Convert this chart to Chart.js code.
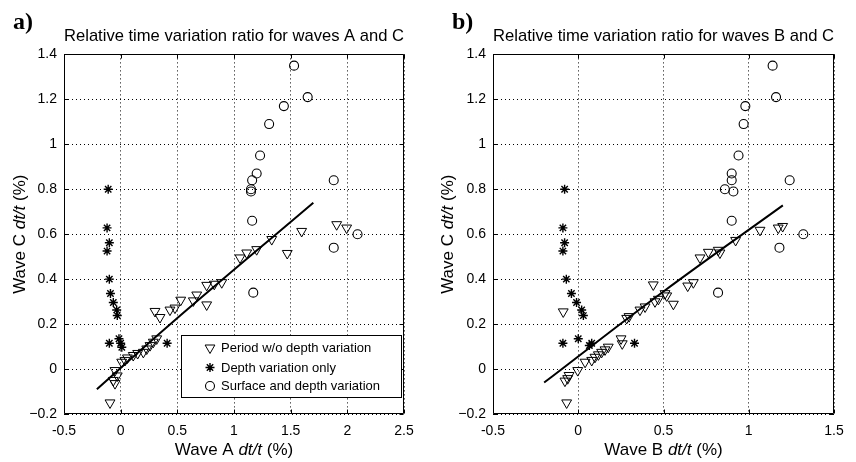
<!DOCTYPE html>
<html><head><meta charset="utf-8">
<script src="https://cdn.jsdelivr.net/npm/chart.js@4"></script>
<style>
html,body{margin:0;padding:0;background:#fff;}
#wrap{position:relative;width:856px;height:462px;overflow:hidden;}
canvas{position:absolute;top:0;}
</style></head><body>
<div id="wrap">
<canvas id="cA" width="428" height="462" style="left:0;width:428px;height:462px"></canvas>
<canvas id="cB" width="428" height="462" style="left:428px;width:428px;height:462px"></canvas>
</div>
<script>
// ---------- tick values / labels ----------
const xTickValsA = [-0.5, 0, 0.5, 1, 1.5, 2, 2.5];
const xTickLabelsA = ['-0.5', '0', '0.5', '1', '1.5', '2', '2.5'];
const xTickValsB = [-0.5, 0, 0.5, 1, 1.5];
const xTickLabelsB = ['-0.5', '0', '0.5', '1', '1.5'];
const yTickVals = [-0.2, 0, 0.2, 0.4, 0.6, 0.8, 1, 1.2, 1.4];
const yTickLabels = ['\u22120.2', '0', '0.2', '0.4', '0.6', '0.8', '1', '1.2', '1.4'];

const seriesNames = ['Period w/o depth variation', 'Depth variation only', 'Surface and depth variation'];

// ---------- panel a: wave A vs wave C ----------
const triAx = [-0.094, -0.050, -0.065, -0.030, -0.050, 0.009, 0.038, 0.060, 0.111, 0.150, 0.200, 0.230, 0.259, 0.288, 0.318, 0.303, 0.347, 0.435, 0.479, 0.530, 0.641, 0.671, 0.759, 0.759, 0.826, 0.892, 1.053, 1.112, 1.200, 1.333, 1.470, 1.597, 1.906, 1.994];
const triAy = [-0.150, -0.064, -0.050, -0.030, -0.006, 0.031, 0.039, 0.050, 0.061, 0.070, 0.075, 0.090, 0.105, 0.120, 0.135, 0.257, 0.230, 0.263, 0.272, 0.307, 0.304, 0.330, 0.286, 0.373, 0.378, 0.385, 0.495, 0.517, 0.532, 0.577, 0.515, 0.613, 0.643, 0.628];
const starAx = [-0.11, -0.12, -0.10, -0.12, -0.10, -0.09, -0.065, -0.035, -0.03, -0.10, -0.015, 0.0, 0.01, 0.41];
const starAy = [0.800, 0.628, 0.562, 0.525, 0.400, 0.336, 0.296, 0.263, 0.238, 0.115, 0.135, 0.115, 0.097, 0.115];
const circAx = [1.53, 1.65, 1.44, 1.31, 1.23, 1.20, 1.16, 1.15, 1.15, 1.16, 1.88, 2.09, 1.88, 1.17];
const circAy = [1.35, 1.21, 1.17, 1.09, 0.95, 0.87, 0.84, 0.80, 0.79, 0.66, 0.84, 0.60, 0.54, 0.34];
const fitAx = [-0.21, 0.45, 1.70];
const fitAy = [-0.09, 0.205, 0.74];

// ---------- panel b: wave B vs wave C ----------
const triBx = [-0.068, -0.078, -0.062, -0.054, -0.003, -0.088, 0.040, 0.079, 0.098, 0.118, 0.137, 0.157, 0.176, 0.251, 0.258, 0.284, 0.298, 0.362, 0.392, 0.450, 0.470, 0.440, 0.509, 0.519, 0.558, 0.642, 0.675, 0.714, 0.763, 0.821, 0.831, 0.923, 1.066, 1.173, 1.199];
const triBy = [-0.150, -0.053, -0.042, -0.028, -0.006, 0.255, 0.031, 0.039, 0.053, 0.064, 0.075, 0.086, 0.098, 0.135, 0.113, 0.226, 0.234, 0.263, 0.277, 0.300, 0.311, 0.375, 0.336, 0.326, 0.289, 0.370, 0.385, 0.495, 0.520, 0.529, 0.517, 0.573, 0.618, 0.628, 0.635];
const starBx = [-0.08, -0.09, -0.08, -0.09, -0.07, -0.04, -0.01, 0.02, 0.03, -0.09, 0.0, 0.065, 0.079, 0.33];
const starBy = [0.800, 0.628, 0.562, 0.525, 0.400, 0.336, 0.296, 0.263, 0.238, 0.115, 0.135, 0.105, 0.115, 0.115];
const circBx = [1.14, 1.16, 0.98, 0.97, 0.94, 0.90, 0.90, 0.86, 0.91, 0.90, 1.24, 1.32, 1.18, 0.82];
const circBy = [1.35, 1.21, 1.17, 1.09, 0.95, 0.87, 0.84, 0.80, 0.79, 0.66, 0.84, 0.60, 0.54, 0.34];
const fitBx = [-0.20, 0.50, 1.20];
const fitBy = [-0.06, 0.345, 0.728];

// ---------- helpers ----------
const zip = (xs, ys) => xs.map((x, i) => ({x: x, y: ys[i]}));
const SANS = '"Liberation Sans", Arial, sans-serif';

function datasets(tx, ty, sx, sy, cx, cy, fx, fy) {
  return [
    {label: seriesNames[0], data: zip(tx, ty), pointStyle: 'triangle', pointRotation: 180, pointRadius: 5.7,
     borderColor: '#000', backgroundColor: 'rgba(0,0,0,0)', pointBorderWidth: 1, showLine: false},
    {label: seriesNames[1], data: zip(sx, sy), pointStyle: 'star', pointRadius: 4.5,
     borderColor: '#000', backgroundColor: 'rgba(0,0,0,0)', pointBorderWidth: 1.4, showLine: false},
    {label: seriesNames[2], data: zip(cx, cy), pointStyle: 'circle', pointRadius: 4.5,
     borderColor: '#000', backgroundColor: 'rgba(0,0,0,0)', pointBorderWidth: 1.1, showLine: false},
    {label: 'fit', data: zip(fx, fy), showLine: true, pointRadius: 0, borderColor: '#000', borderWidth: 2, fill: false, tension: 0.4}
  ];
}

function drawMixed(ctx, parts, x, y, size) {
  let w = 0;
  parts.forEach(p => { ctx.font = (p[1] ? 'italic ' : '') + size + 'px ' + SANS; p.w = ctx.measureText(p[0]).width; w += p.w; });
  let cx = x - w / 2;
  ctx.textAlign = 'left';
  ctx.textBaseline = 'middle';
  parts.forEach(p => { ctx.font = (p[1] ? 'italic ' : '') + size + 'px ' + SANS; ctx.fillText(p[0], cx, y); cx += p.w; });
}

function drawLegend(ctx, x0, y0, w, h) {
  ctx.save();
  ctx.fillStyle = '#fff';
  ctx.fillRect(x0, y0, w, h);
  ctx.strokeStyle = '#000';
  ctx.lineWidth = 1;
  ctx.strokeRect(x0 + 0.5, y0 + 0.5, w, h);
  const mx = x0 + 29, tx = x0 + 40;
  const rows = [y0 + 13, y0 + 32.5, y0 + 51];
  // triangle (down)
  ctx.beginPath();
  ctx.moveTo(mx - 4.9, rows[0] - 3); ctx.lineTo(mx + 4.9, rows[0] - 3); ctx.lineTo(mx, rows[0] + 5.5); ctx.closePath();
  ctx.stroke();
  // star
  ctx.lineWidth = 1.4;
  ctx.beginPath();
  const r = 4.5, d = r * Math.SQRT1_2;
  ctx.moveTo(mx - r, rows[1]); ctx.lineTo(mx + r, rows[1]);
  ctx.moveTo(mx, rows[1] - r); ctx.lineTo(mx, rows[1] + r);
  ctx.moveTo(mx - d, rows[1] - d); ctx.lineTo(mx + d, rows[1] + d);
  ctx.moveTo(mx - d, rows[1] + d); ctx.lineTo(mx + d, rows[1] - d);
  ctx.stroke();
  ctx.lineWidth = 1.1;
  // circle
  ctx.beginPath(); ctx.arc(mx, rows[2], 4.5, 0, Math.PI * 2); ctx.stroke();
  ctx.fillStyle = '#000';
  ctx.font = '13px ' + SANS;
  ctx.textAlign = 'left';
  ctx.textBaseline = 'middle';
  seriesNames.forEach((n, i) => ctx.fillText(n, tx, rows[i] + 0.5));
  ctx.restore();
}

function decorPlugin(cfg) {
  return {
    id: 'decor',
    afterDraw(chart) {
      const ctx = chart.ctx, a = chart.chartArea;
      const sx = chart.scales.x, sy = chart.scales.y;
      ctx.save();
      ctx.strokeStyle = '#000';
      ctx.lineWidth = 1;
      const L = Math.round(a.left) + 0.5, R = Math.round(a.right) - 0.5, T = Math.round(a.top) + 0.5, B = Math.round(a.bottom) - 0.5;
      ctx.beginPath();
      ctx.rect(L, T, R - L, B - T);
      // inner tick marks
      cfg.xt.forEach(v => { const p = Math.round(sx.getPixelForValue(v)) + 0.5; ctx.moveTo(p, B); ctx.lineTo(p, B - 4); ctx.moveTo(p, T); ctx.lineTo(p, T + 4); });
      yTickVals.forEach(v => { const p = Math.round(sy.getPixelForValue(v)) + 0.5; ctx.moveTo(L, p); ctx.lineTo(L + 4, p); ctx.moveTo(R, p); ctx.lineTo(R - 4, p); });
      ctx.stroke();
      ctx.fillStyle = '#000';
      // panel letter
      ctx.font = 'bold 24px "Liberation Serif", "Times New Roman", serif';
      ctx.textAlign = 'left';
      ctx.textBaseline = 'alphabetic';
      ctx.fillText(cfg.letter, cfg.letterX, 29);
      // axis titles
      const mid = (a.left + a.right) / 2;
      drawMixed(ctx, [['Wave ' + cfg.wave + ' ', false], ['dt/t', true], [' (%)', false]], mid, 450, 17);
      ctx.save();
      ctx.translate(cfg.yLabelX, (a.top + a.bottom) / 2);
      ctx.rotate(-Math.PI / 2);
      drawMixed(ctx, [['Wave C ', false], ['dt/t', true], [' (%)', false]], 0, 0, 17);
      ctx.restore();
      if (cfg.legend) drawLegend(ctx, 181, 335, 220, 62);
      ctx.restore();
    }
  };
}

function makeChart(id, title, dsets, xmin, xmax, xt, xl, padRight, yAxisW, cfg) {
  return new Chart(document.getElementById(id), {
    type: 'scatter',
    data: {datasets: dsets},
    options: {
      responsive: false,
      animation: false,
      devicePixelRatio: 1,
      layout: {padding: {left: 0, right: padRight, top: 0, bottom: 0}},
      plugins: {
        legend: {display: false},
        tooltip: {enabled: false},
        title: {display: true, text: title, fullSize: false, color: '#000',
                font: {family: SANS, size: 17, weight: 'normal'}, padding: {top: 26, bottom: 8}}
      },
      scales: {
        x: {
          type: 'linear', min: xmin, max: xmax,
          afterBuildTicks: s => { s.ticks = xt.map(v => ({value: v})); },
          afterFit: s => { s.height = 48; },
          ticks: {callback: (v, i) => xl[i], color: '#000', font: {family: SANS, size: 14}, padding: 9, maxRotation: 0, autoSkip: false},
          grid: {color: '#000', lineWidth: 1, drawTicks: false},
          border: {display: false, dash: [1, 3]}
        },
        y: {
          type: 'linear', min: -0.2, max: 1.4,
          afterBuildTicks: s => { s.ticks = yTickVals.map(v => ({value: v})); },
          afterFit: s => { s.width = yAxisW; },
          ticks: {callback: (v, i) => yTickLabels[i], color: '#000', font: {family: SANS, size: 14}, padding: 7, autoSkip: false},
          grid: {color: '#000', lineWidth: 1, drawTicks: false},
          border: {display: false, dash: [1, 3]}
        }
      }
    },
    plugins: [decorPlugin(Object.assign({xt: xt}, cfg))]
  });
}

makeChart('cA', 'Relative time variation ratio for waves A and C',
  datasets(triAx, triAy, starAx, starAy, circAx, circAy, fitAx, fitAy),
  -0.5, 2.5, xTickValsA, xTickLabelsA, 24, 64,
  {letter: 'a)', letterX: 13, wave: 'A', yLabelX: 20, legend: true});

makeChart('cB', 'Relative time variation ratio for waves B and C',
  datasets(triBx, triBy, starBx, starBy, circBx, circBy, fitBx, fitBy),
  -0.5, 1.5, xTickValsB, xTickLabelsB, 22, 65,
  {letter: 'b)', letterX: 24, wave: 'B', yLabelX: 20, legend: false});
</script>
</body></html>
